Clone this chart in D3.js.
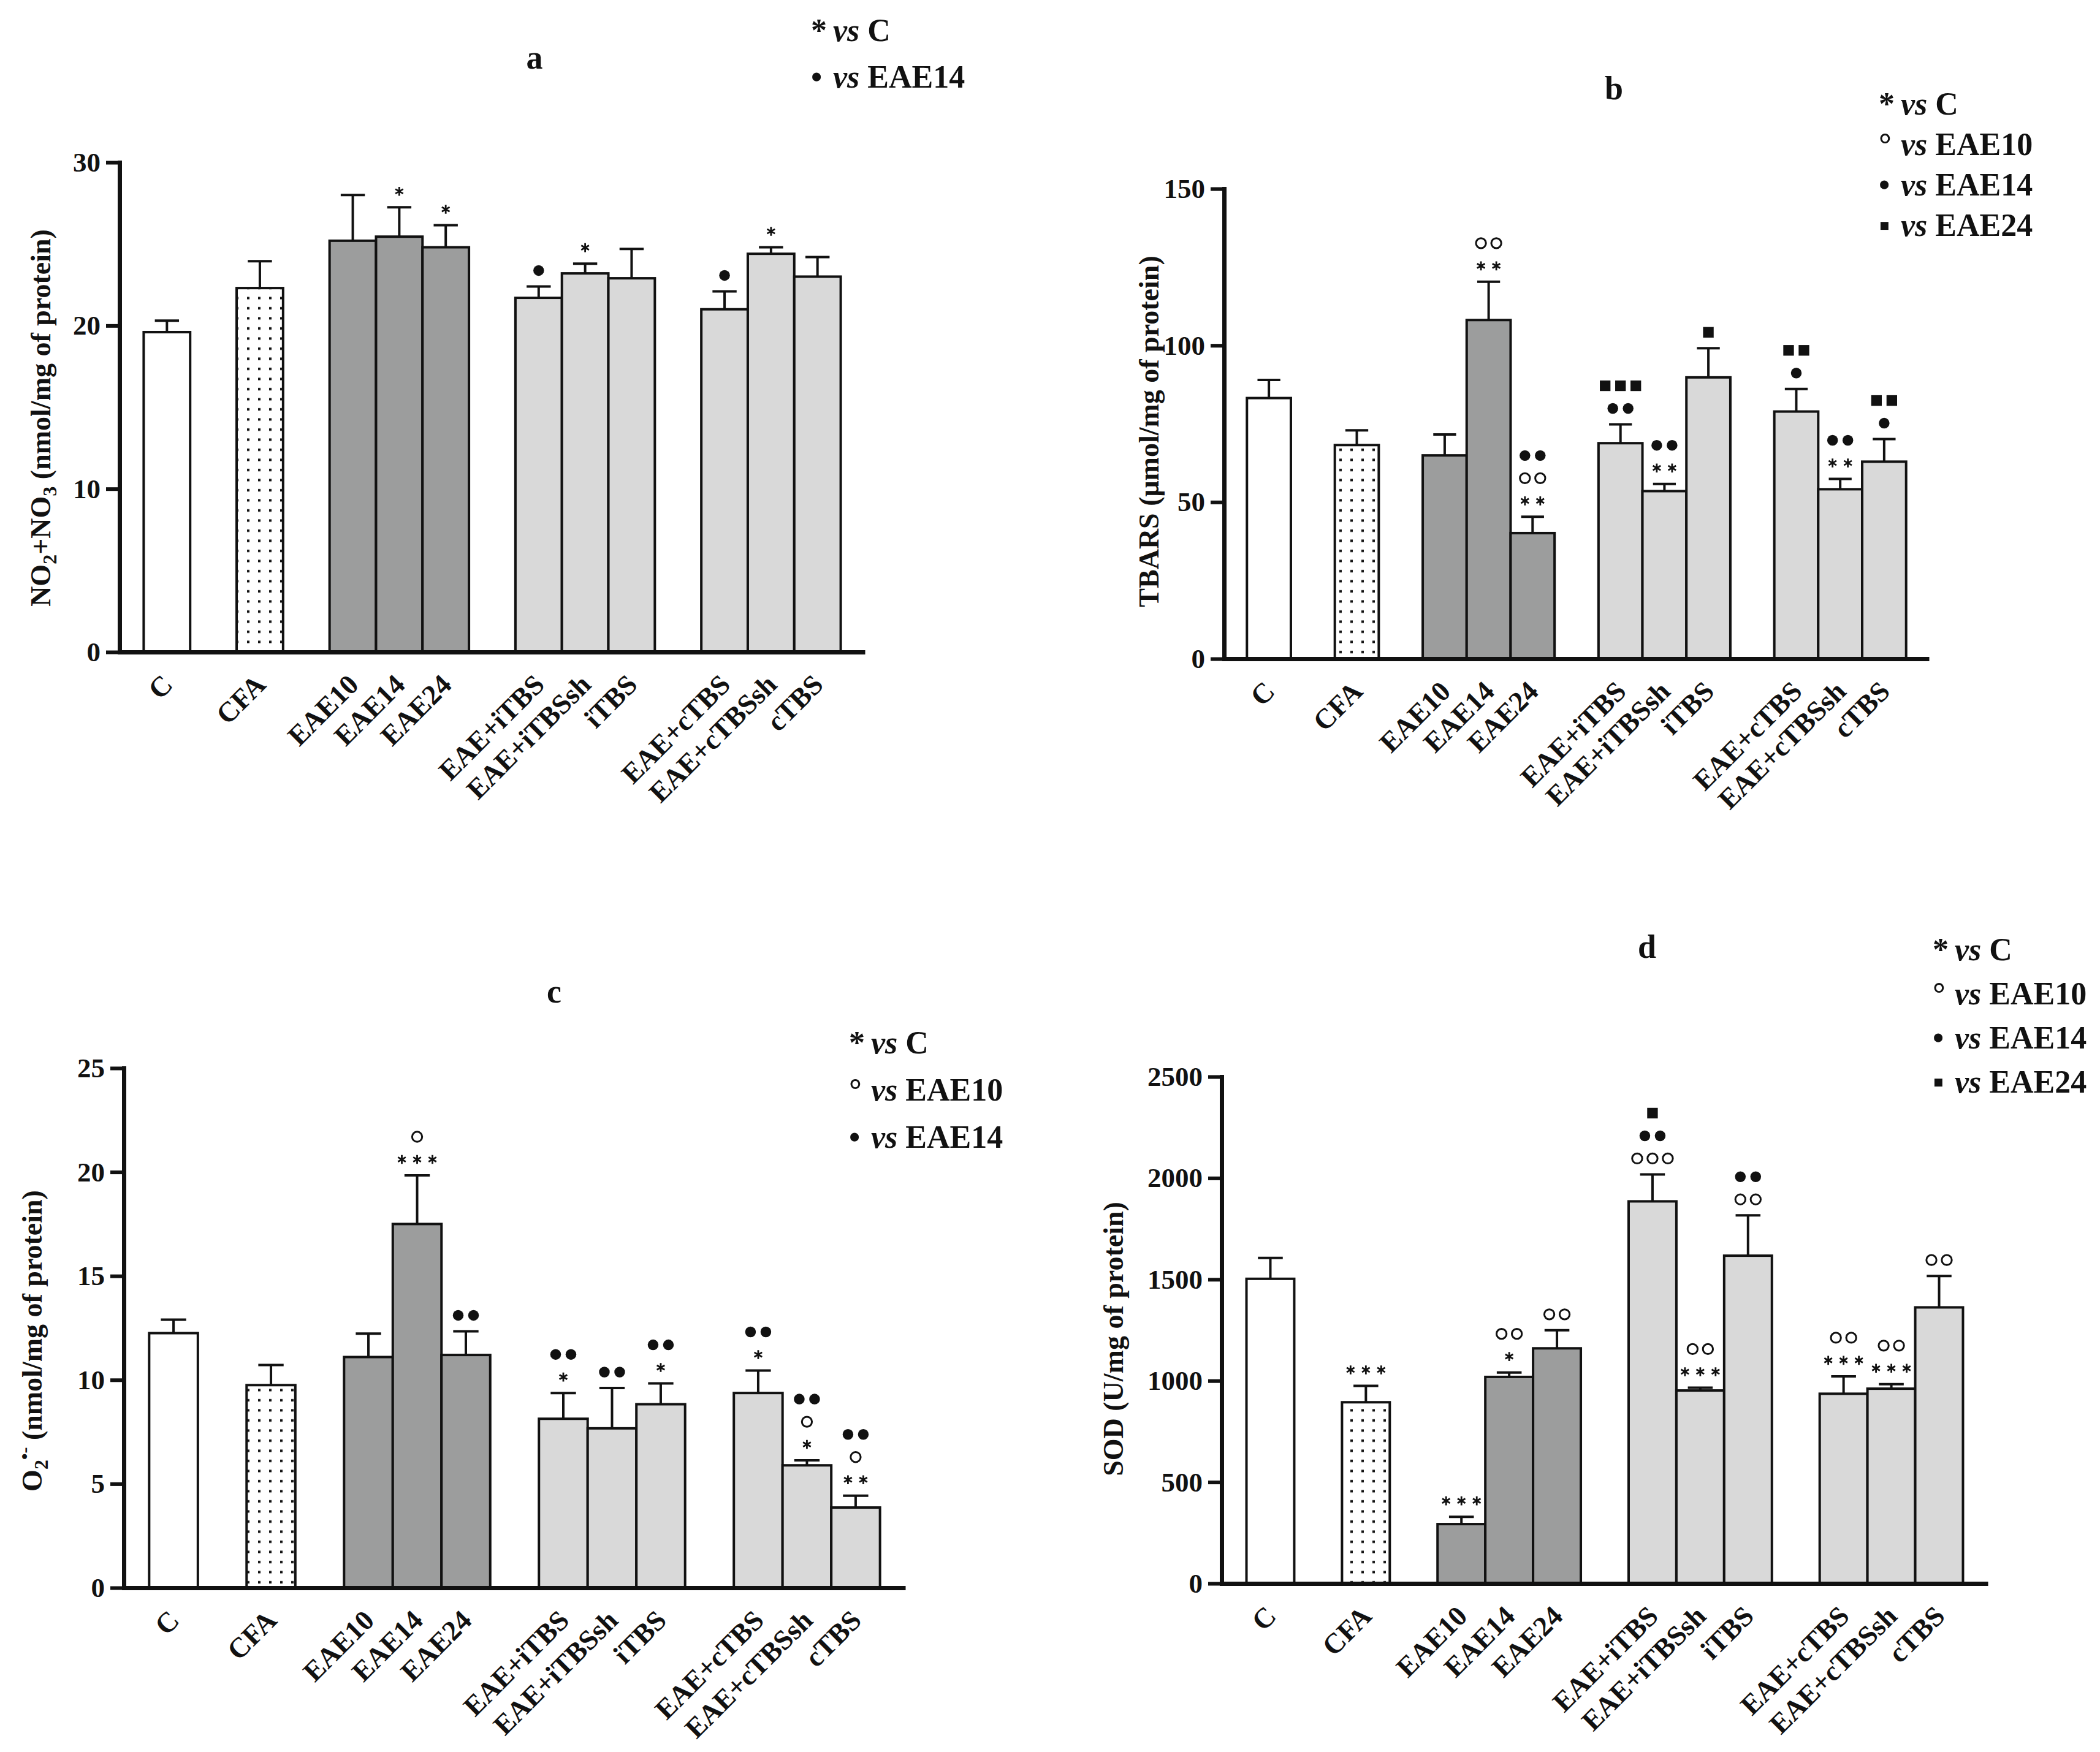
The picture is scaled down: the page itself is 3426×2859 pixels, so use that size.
<!DOCTYPE html>
<html lang="en">
<head>
<meta charset="UTF-8" />
<title>Oxidative stress markers</title>
<script src="https://cdn.jsdelivr.net/npm/d3@7"></script>
<style>
  body { margin: 0; background: #fff; }
  text { font-family: "Liberation Serif", "Times New Roman", serif; font-weight: bold; fill: #111; }
</style>
</head>
<body>
<script>
// groups of bars, in order; a gap slot sits between groups
var categories = ["C", "CFA", "EAE10", "EAE14", "EAE24",
  "EAE+iTBS", "EAE+iTBSsh", "iTBS", "EAE+cTBS", "EAE+cTBSsh", "cTBS"];
var groupSizes = [1, 1, 3, 3, 3];
var groupFills = ["white", "dots", "dark", "light", "light"];

// a: NO2+NO3
var noxMean = [19.6, 22.3, 25.2, 25.45, 24.8, 21.7, 23.2, 22.9, 21.0, 24.4, 23.0];
var noxSem  = [0.7, 1.65, 2.8, 1.8, 1.35, 0.7, 0.6, 1.8, 1.1, 0.4, 1.2];
var noxSig  = ["", "", "", "*", "*", "●", "*", "", "●", "*", ""];
var noxTicks = [0, 10, 20, 30];

// b: TBARS
var tbarsMean = [83.2, 68.2, 64.9, 108.1, 40.1, 68.8, 53.5, 89.8, 78.9, 54.1, 62.9];
var tbarsSem  = [5.8, 4.7, 6.7, 12.2, 5.2, 6.0, 2.3, 9.3, 7.2, 3.3, 7.2];
var tbarsSig  = ["", "", "", "** ○○", "** ○○ ●●", "●● ■■■", "** ●●", "■", "● ■■", "** ●●", "● ■■"];
var tbarsTicks = [0, 50, 100, 150];

// c: O2-
var o2Mean = [12.25, 9.75, 11.1, 17.5, 11.2, 8.13, 7.67, 8.83, 9.37, 5.89, 3.86];
var o2Sem  = [0.65, 0.97, 1.13, 2.34, 1.14, 1.24, 1.94, 1.0, 1.08, 0.24, 0.57];
var o2Sig  = ["", "", "", "*** ○", "●●", "* ●●", "●●", "* ●●", "* ●●", "* ○ ●●", "** ○ ●●"];
var o2Ticks = [0, 5, 10, 15, 20, 25];

// d: SOD
var sodMean = [1503, 894, 293, 1019, 1160, 1885, 952, 1617, 936, 961, 1362];
var sodSem  = [103, 81, 36, 22, 89, 133, 14, 199, 86, 22, 155];
var sodSig  = ["", "***", "***", "* ○○", "○○", "○○○ ●● ■", "*** ○○", "○○ ●●", "*** ○○", "*** ○○", "○○"];
var sodTicks = [0, 500, 1000, 1500, 2000, 2500];

var legendA = [["*", "C"], ["•", "EAE14"]];
var legendB = [["*", "C"], ["°", "EAE10"], ["•", "EAE14"], ["▪", "EAE24"]];
var legendC = [["*", "C"], ["°", "EAE10"], ["•", "EAE14"]];
var legendD = legendB;

var W = 3426, H = 2859;
var ink = "#111";
var serif = '"Liberation Serif", "Times New Roman", serif';

var svg = d3.select("body").append("svg").attr("width", W).attr("height", H);
svg.append("rect").attr("width", W).attr("height", H).attr("fill", "#fff");

svg.append("defs").append("pattern")
  .attr("id", "dots").attr("patternUnits", "userSpaceOnUse")
  .attr("width", 18).attr("height", 16.5)
  .append("rect").attr("x", 7).attr("y", 6).attr("width", 4).attr("height", 4).attr("fill", ink);

var fillColor = { white: "#fff", dots: "url(#dots)", dark: "#9c9d9d", light: "#d9d9d9" };

// band slots with gap keys between groups
var slots = [], fillOf = {}, k = 0;
groupSizes.forEach(function (n, g) {
  if (g > 0) slots.push("gap" + g);
  for (var i = 0; i < n; i++) {
    slots.push(categories[k]);
    fillOf[categories[k]] = groupFills[g];
    k++;
  }
});

var symType = { "○": d3.symbolCircle, "●": d3.symbolCircle, "■": d3.symbolSquare,
  "*": d3.symbolAsterisk || d3.symbolCross };
var symSize = { "○": 210, "●": 240, "■": 300, "*": 150 };

function drawPanel(p) {
  var x = d3.scaleBand().domain(slots).range([p.x0, p.x1]).paddingInner(0).paddingOuter(0.52);
  var y = d3.scaleLinear().domain([0, p.ticks[p.ticks.length - 1]]).range([p.yBottom, p.yTop]);
  var bw = x.bandwidth();
  var rows = categories.map(function (c, i) {
    return { cat: c, mean: p.mean[i], sem: p.sem[i], sig: p.sig[i] };
  });

  svg.append("g").selectAll("rect").data(rows).enter().append("rect")
    .attr("x", function (d) { return x(d.cat); })
    .attr("y", function (d) { return y(d.mean); })
    .attr("width", bw)
    .attr("height", function (d) { return p.yBottom - y(d.mean); })
    .attr("fill", function (d) { return fillColor[fillOf[d.cat]]; })
    .attr("stroke", ink).attr("stroke-width", 4);

  var err = svg.append("g").attr("stroke", ink).attr("stroke-width", 4);
  rows.forEach(function (d) {
    var cx = x(d.cat) + bw / 2, top = y(d.mean + d.sem);
    err.append("line").attr("x1", cx).attr("x2", cx).attr("y1", y(d.mean)).attr("y2", top);
    err.append("line").attr("x1", cx - bw * 0.26).attr("x2", cx + bw * 0.26).attr("y1", top).attr("y2", top);

    // significance markers, bottom row first
    d.sig.split(" ").filter(Boolean).forEach(function (row, r) {
      var chars = Array.from(row);
      chars.forEach(function (ch, j) {
        var open = ch === "○" || ch === "*";
        svg.append("path")
          .attr("d", d3.symbol().type(symType[ch]).size(symSize[ch])())
          .attr("transform", "translate(" + (cx + (j - (chars.length - 1) / 2) * 25) + "," + (top - 26 - r * 37) + ")")
          .attr("fill", open ? "none" : ink)
          .attr("stroke", open ? ink : "none")
          .attr("stroke-width", ch === "*" ? 2.8 : 3);
      });
    });
  });

  var gy = svg.append("g").attr("transform", "translate(" + p.x0 + ",0)")
    .call(d3.axisLeft(y).tickValues(p.ticks).tickFormat(d3.format("d"))
      .tickSize(22).tickSizeOuter(0).tickPadding(9));
  gy.attr("font-family", serif).attr("font-size", 45).attr("font-weight", "bold");
  gy.select(".domain").attr("stroke", ink).attr("stroke-width", 7).attr("stroke-linecap", "square");
  gy.selectAll(".tick line").attr("stroke", ink).attr("stroke-width", 6);
  gy.selectAll(".tick text").attr("fill", ink);

  var gx = svg.append("g").attr("transform", "translate(0," + p.yBottom + ")")
    .call(d3.axisBottom(x).tickValues(categories).tickSize(0).tickSizeOuter(0));
  gx.attr("font-family", serif).attr("font-size", 46).attr("font-weight", "bold");
  gx.select(".domain").attr("stroke", ink).attr("stroke-width", 7);
  gx.selectAll(".tick text")
    .attr("fill", ink).attr("dy", null)
    .attr("x", 12).attr("y", 56)
    .attr("text-anchor", "end")
    .attr("transform", "rotate(-45,12,56)");

  var yl = svg.append("text")
    .attr("transform", "translate(" + p.labelX + "," + p.labelY + ") rotate(-90)")
    .attr("text-anchor", "middle").attr("font-size", 46);
  p.label(yl);

  svg.append("text").attr("x", p.titleX).attr("y", p.titleY)
    .attr("text-anchor", "middle").attr("font-size", 54).text(p.title);

  p.legend.forEach(function (e, i) {
    var t = svg.append("text").attr("x", p.legendX - 4).attr("y", p.legendY + i * p.legendStep)
      .attr("font-size", 52);
    t.append("tspan").text(e[0]);
    t.append("tspan").attr("x", p.legendX + 32).attr("font-style", "italic").text("vs");
    t.append("tspan").text(" " + e[1]);
  });
}

drawPanel({
  title: "a", mean: noxMean, sem: noxSem, sig: noxSig, ticks: noxTicks,
  x0: 195, x1: 1411, yTop: 265, yBottom: 1064,
  titleX: 872, titleY: 112,
  legend: legendA, legendX: 1327, legendY: 67, legendStep: 76,
  labelX: 82, labelY: 682,
  label: function (t) {
    t.append("tspan").text("NO");
    t.append("tspan").attr("font-size", 32).attr("dy", 10).text("2");
    t.append("tspan").attr("dy", -10).text("+NO");
    t.append("tspan").attr("font-size", 32).attr("dy", 10).text("3");
    t.append("tspan").attr("dy", -10).text(" (nmol/mg of protein)");
  }
});

drawPanel({
  title: "b", mean: tbarsMean, sem: tbarsSem, sig: tbarsSig, ticks: tbarsTicks,
  x0: 1997, x1: 3147, yTop: 308, yBottom: 1075,
  titleX: 2633, titleY: 162,
  legend: legendB, legendX: 3069, legendY: 187, legendStep: 66,
  labelX: 1890, labelY: 704,
  label: function (t) { t.text("TBARS (μmol/mg of protein)"); }
});

drawPanel({
  title: "c", mean: o2Mean, sem: o2Sem, sig: o2Sig, ticks: o2Ticks,
  x0: 202, x1: 1477, yTop: 1743, yBottom: 2591,
  titleX: 904, titleY: 1636,
  legend: legendC, legendX: 1389, legendY: 1719, legendStep: 77,
  labelX: 68, labelY: 2188,
  label: function (t) {
    t.append("tspan").text("O");
    t.append("tspan").attr("font-size", 32).attr("dy", 10).text("2");
    t.append("tspan").attr("font-size", 30).attr("dy", -28).text("•-");
    t.append("tspan").attr("dy", 18).text(" (nmol/mg of protein)");
  }
});

drawPanel({
  title: "d", mean: sodMean, sem: sodSem, sig: sodSig, ticks: sodTicks,
  x0: 1993, x1: 3243, yTop: 1757, yBottom: 2584,
  titleX: 2687, titleY: 1563,
  legend: legendD, legendX: 3157, legendY: 1567, legendStep: 72,
  labelX: 1832, labelY: 2185,
  label: function (t) { t.text("SOD (U/mg of protein)"); }
});
</script>
</body>
</html>
